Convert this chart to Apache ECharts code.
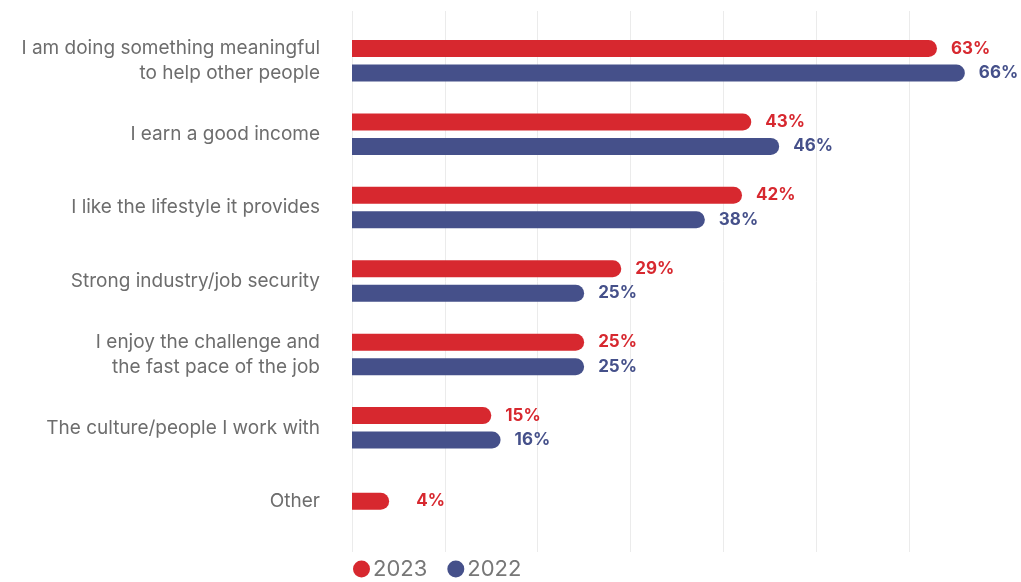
<!DOCTYPE html>
<html>
<head>
<meta charset="utf-8">
<script src="https://cdn.jsdelivr.net/npm/echarts@6/dist/echarts.min.js"></script>
<style>
  html, body { margin: 0; padding: 0; background: #ffffff; }
  #chart { width: 1021px; height: 582px; }
</style>
</head>
<body>
<div id="chart"></div>
<script>
// Reasons for choosing the job, share of respondents
const categories = [
  'I am doing something meaningful\nto help other people',
  'I earn a good income',
  'I like the lifestyle it provides',
  'Strong industry/job security',
  'I enjoy the challenge and\nthe fast pace of the job',
  'The culture/people I work with',
  'Other'
];
const values2023 = [63, 43, 42, 29, 25, 15, 4];
const values2022 = [66, 46, 38, 25, 25, 16, null];
const legendNames = ['2023', '2022'];
const gridTicks = [0, 10, 20, 30, 40, 50, 60];

const RED = '#d7282f';
const BLUE = '#45508a';
const FONT = 'Inter, "Open Sans", sans-serif';

// Categories answered only in 2023 get their own bar, centred in the row
const paired2023 = values2023.map((v, i) => values2022[i] == null ? null : v);
const single2023 = values2023.map((v, i) => values2022[i] == null ? v : null);

function valueLabel(color, distance) {
  return {
    show: true,
    position: 'right',
    distance: distance,
    formatter: p => p.value + '%',
    color: color,
    fontFamily: FONT,
    fontWeight: 'bold',
    fontSize: 17,
    padding: [2, 0, 0, 0]
  };
}

const barRadius = [0, 8.5, 8.5, 0];

const chart = echarts.init(document.getElementById('chart'), null, { renderer: 'canvas' });
chart.setOption({
  animation: false,
  backgroundColor: '#ffffff',
  legend: {
    data: legendNames,
    left: 348,
    bottom: -3,
    icon: 'circle',
    itemWidth: 17,
    itemHeight: 17,
    itemGap: 20,
    textStyle: { color: '#777777', fontSize: 22, fontFamily: FONT, padding: [0, 0, 0, -2] }
  },
  grid: [
    // vertical gridlines
    { left: 352, right: 112, top: 11, bottom: 30, containLabel: false },
    // bars
    { left: 352, right: 19, top: 24, bottom: 44, containLabel: false }
  ],
  xAxis: [
    {
      gridIndex: 0, type: 'value', min: gridTicks[0], max: gridTicks[gridTicks.length - 1],
      interval: gridTicks[1] - gridTicks[0],
      axisLine: { show: false }, axisTick: { show: false }, axisLabel: { show: false },
      splitLine: { show: true, lineStyle: { color: '#ebebeb', width: 1 } }
    },
    {
      gridIndex: 1, type: 'value', min: 0, max: 70,
      axisLine: { show: false }, axisTick: { show: false }, axisLabel: { show: false },
      splitLine: { show: false }
    }
  ],
  yAxis: [
    {
      gridIndex: 0, type: 'category', data: categories, inverse: true,
      axisLine: { show: false }, axisTick: { show: false }, axisLabel: { show: false },
      splitLine: { show: false }
    },
    {
      gridIndex: 1, type: 'category', data: categories, inverse: true,
      axisLine: { show: false }, axisTick: { show: false },
      axisLabel: {
        margin: 32,
        color: '#6d6d6d',
        fontSize: 19,
        fontFamily: FONT,
        lineHeight: 25,
        align: 'right',
        padding: [4, 0, 0, 0]
      }
    },
    {
      gridIndex: 1, type: 'category', data: categories, inverse: true, show: false
    }
  ],
  series: [
    {
      name: '2023', type: 'bar', xAxisIndex: 1, yAxisIndex: 1,
      data: paired2023, barWidth: 17, barGap: '44%',
      itemStyle: { color: RED, borderRadius: barRadius },
      label: valueLabel(RED, 14)
    },
    {
      name: '2022', type: 'bar', xAxisIndex: 1, yAxisIndex: 1,
      data: values2022, barWidth: 17, barGap: '44%',
      itemStyle: { color: BLUE, borderRadius: barRadius },
      label: valueLabel(BLUE, 14)
    },
    {
      name: '2023', type: 'bar', xAxisIndex: 1, yAxisIndex: 2,
      data: single2023, barWidth: 17,
      itemStyle: { color: RED, borderRadius: barRadius },
      label: valueLabel(RED, 27)
    }
  ]
});
</script>
</body>
</html>
